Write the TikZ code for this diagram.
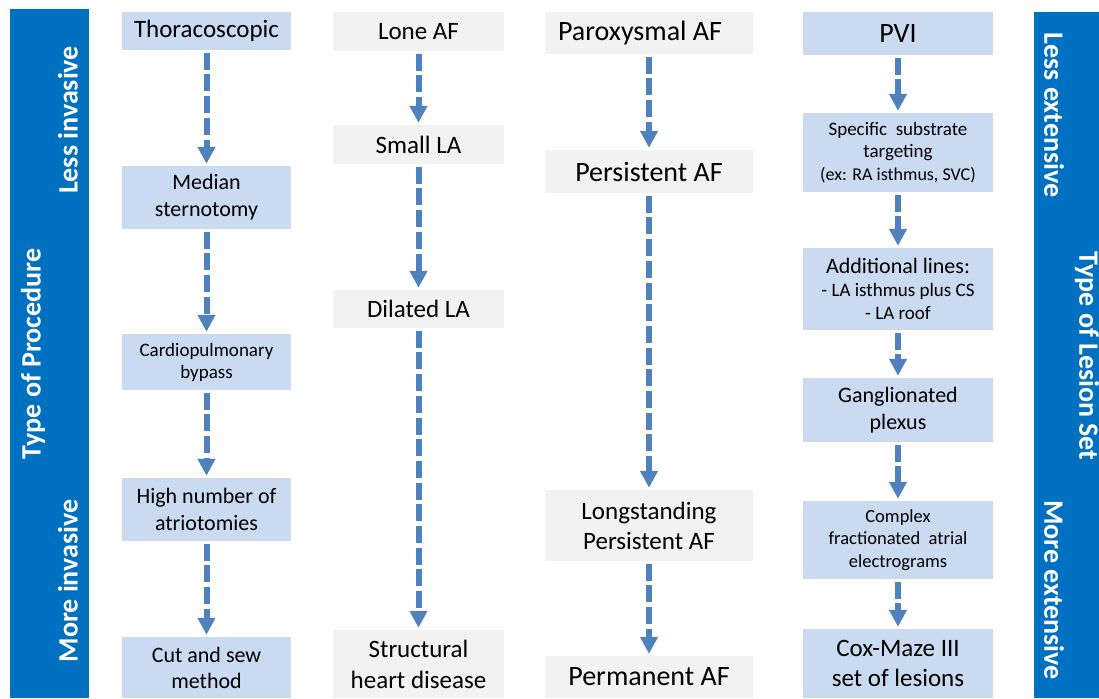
\documentclass[tikz,border=0pt]{standalone}
\usepackage{fontspec}
\setmainfont{Carlito}
\usetikzlibrary{arrows.meta}
\definecolor{barblue}{HTML}{0070C0}
\definecolor{boxblue}{HTML}{C9DAF1}
\definecolor{boxgray}{HTML}{F2F2F2}
\definecolor{arrblue}{HTML}{4F81BD}
\newcommand\fsz[2]{\fontsize{#1pt}{#2pt}\selectfont}
\tikzset{
  bluebox/.style={fill=boxblue, draw=none, inner sep=0pt, align=center, text=black},
  graybox/.style={fill=boxgray, draw=none, inner sep=0pt, align=center, text=black},
  bartext/.style={text=white, font=\bfseries\fsz{28}{34}, inner sep=0pt},
  arr/.style={draw=arrblue, line width=6pt, dash pattern=on 17pt off 4.7pt,
    -{Triangle[width=17pt,length=17pt]}},
}
\begin{document}
\begin{tikzpicture}[x=1pt,y=-1pt]
\useasboundingbox (0,0) rectangle (1099,698);
% side bars
\fill[barblue] (10,9) rectangle (89,698);
\fill[barblue] (1034,12) rectangle (1110,698);
\node[bartext, rotate=90] (li) at (68,120) {Less invasive};
\node[bartext, rotate=90] (tp) at (33,354) {Type of Procedure};
\node[bartext, rotate=90] (mi) at (68,581) {More invasive};
\node[bartext, rotate=-90] (le) at (1054,115) {Less extensive};
\node[bartext, rotate=-90] (tl) at (1087,356) {Type of Lesion Set};
\node[bartext, rotate=-90] (me) at (1054,590) {More extensive};
% column 1
\node[bluebox, minimum width=169pt, minimum height=38pt, font=\fsz{25}{30}] (t1) at (206.5,31) {Thoracoscopic};
\node[bluebox, minimum width=169pt, minimum height=63pt, font=\fsz{22}{27}] (t2) at (206.5,197.5) {Median\\sternotomy};
\node[bluebox, minimum width=169pt, minimum height=56pt, font=\fsz{19}{22}] (t3) at (206.5,362) {Cardiopulmonary\\bypass};
\node[bluebox, minimum width=169pt, minimum height=63pt, font=\fsz{22}{27}] (t4) at (206.5,509.5) {High number of\\atriotomies};
\node[bluebox, minimum width=169pt, minimum height=61pt, font=\fsz{22}{26}] (t5) at (206.5,667.5) {Cut and sew\\method};
% column 2
\node[graybox, minimum width=171pt, minimum height=39pt, font=\fsz{25}{30}] (l1) at (418.5,31.5) {Lone AF};
\node[graybox, minimum width=171pt, minimum height=39pt, font=\fsz{25}{30}] (l2) at (418.5,144.5) {Small LA};
\node[graybox, minimum width=171pt, minimum height=38pt, font=\fsz{25}{30}] (l3) at (418.5,309) {Dilated LA};
\node[graybox, minimum width=171pt, minimum height=68pt, font=\fsz{25}{31}] (l4) at (418.5,664) {Structural\\heart disease};
% column 3
\node[graybox, minimum width=208pt, minimum height=42pt, font=\fsz{28}{34}] (p1) at (649,33) {\hspace*{-18pt}Paroxysmal AF};
\node[graybox, minimum width=208pt, minimum height=43pt, font=\fsz{28}{34}] (p2) at (649,171.5) {Persistent AF};
\node[graybox, minimum width=208pt, minimum height=71pt, font=\fsz{25}{30}] (p3) at (649,525.5) {Longstanding\\Persistent AF};
\node[graybox, minimum width=208pt, minimum height=42pt, font=\fsz{28}{34}] (p4) at (649,677) {Permanent AF};
% column 4
\node[bluebox, minimum width=190pt, minimum height=43pt, font=\fsz{28}{34}] (v1) at (898,33.5) {PVI};
\node[bluebox, minimum width=190pt, minimum height=79pt, font=\fsz{19}{22.5}] (v2) at (898,152.5) {Specific\ \ substrate\\targeting\\{\fsz{18}{22.5}(ex: RA isthmus, SVC)}};
\node[bluebox, minimum width=190pt, minimum height=82pt, font=\fsz{19}{23}] (v3) at (898,289) {{\fsz{22}{23}Additional lines:}\\- LA isthmus plus CS\\- LA roof};
\node[bluebox, minimum width=190pt, minimum height=64pt, font=\fsz{22}{27}] (v4) at (898,410) {Ganglionated\\plexus};
\node[bluebox, minimum width=190pt, minimum height=78pt, font=\fsz{18.5}{22.7}] (v5) at (898,540) {Complex\\fractionated\ \ atrial\\electrograms};
\node[bluebox, minimum width=190pt, minimum height=69pt, font=\fsz{25}{30.5}] (v6) at (898,663.5) {Cox-Maze III\\set of lesions};
% arrows
\foreach \a/\b in {t1/t2,t2/t3,t3/t4,t4/t5,l1/l2,l2/l3,l3/l4,p1/p2,p2/p3,p3/p4,v1/v2,v2/v3,v3/v4,v4/v5,v5/v6}
  \draw[arr] ([yshift=-2.5pt]\a.south) -- ([yshift=2pt]\b.north);
\end{tikzpicture}
\end{document}
